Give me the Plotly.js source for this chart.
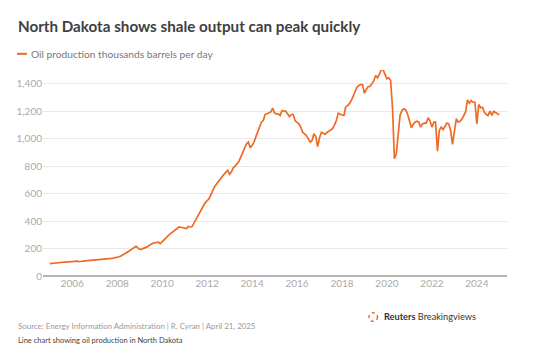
<!DOCTYPE html>
<html>
<head>
<meta charset="utf-8">
<script src="https://cdn.plot.ly/plotly-3.0.1.min.js"></script>
<style>
  html, body { margin: 0; padding: 0; background: #fff; }
  #chart { width: 550px; height: 352px; }
</style>
</head>
<body>
<div id="chart"></div>
<script>
// Monthly North Dakota oil production, thousand barrels per day (Jan 2005 .. Jan 2025)
const startYear = 2005;
const production = [
  // 2005
  90, 92, 95, 96, 98, 100, 101, 100, 101, 102, 103, 104,
  // 2006
  105, 106, 108, 108, 104, 108, 109, 110, 111, 112, 113, 114,
  // 2007
  115, 116, 118, 119, 120, 122, 123, 125, 127, 128, 130, 132,
  // 2008
  135, 140, 145, 152, 160, 168, 178, 188, 198, 210, 216, 205,
  // 2009
  194, 196, 200, 206, 212, 222, 233, 238, 242, 245, 247, 236,
  // 2010
  248, 265, 275, 290, 303, 315, 325, 335, 349, 357, 355, 350,
  // 2011
  347, 345, 361, 357, 360, 385, 417, 440, 466, 490, 510, 535,
  // 2012
  548, 563, 590, 623, 650, 670, 684, 705, 725, 745, 756, 769,
  // 2013
  740, 760, 788, 800, 817, 835, 865, 902, 935, 963, 975, 934,
  // 2014
  951, 975, 1011, 1047, 1096, 1120, 1132, 1176, 1181, 1186, 1195, 1222,
  // 2015
  1186, 1181, 1181, 1169, 1205, 1200, 1200, 1180, 1161, 1176, 1176, 1130,
  // 2016
  1120, 1108, 1085, 1047, 1035, 1023, 1000, 975, 987, 1036, 1016, 943,
  // 2017
  1007, 1047, 1040, 1031, 1045, 1055, 1065, 1072, 1100, 1132, 1186, 1176,
  // 2018
  1172, 1169, 1229, 1241, 1255, 1278, 1314, 1350, 1375, 1387, 1394, 1394,
  // 2019
  1331, 1360, 1380, 1380, 1399, 1420, 1460, 1443, 1470, 1501, 1501, 1470,
  // 2020
  1436, 1443, 1423, 1220, 854, 890, 1050, 1170, 1205, 1217, 1210, 1180,
  // 2021
  1130, 1079, 1103, 1120, 1127, 1120, 1084, 1108, 1113, 1113, 1152, 1130,
  // 2022
  1084, 1120, 1120, 909, 1060, 1084, 1065, 1090, 1113, 1108, 1060, 958,
  // 2023
  1060, 1145, 1120, 1127, 1140, 1169, 1193, 1283, 1258, 1278, 1265, 1265,
  // 2024
  1108, 1249, 1225, 1229, 1193, 1176, 1169, 1200, 1169, 1200, 1188, 1181,
  // 2025
  1174
];
const xTickVals = ['2006','2008','2010','2012','2014','2016','2018','2020','2022','2024'];
const yTickVals = [0, 200, 400, 600, 800, 1000, 1200, 1400];

const seriesName = 'Oil production thousands barrels per day';
const titleText = 'North Dakota shows shale output can peak quickly';
const sourceText = 'Source: Energy Information Administration | R. Cyran | April 21, 2025';
const captionText = 'Line chart showing oil production in North Dakota';

const dates = production.map((v, i) => {
  const y = startYear + Math.floor(i / 12);
  const m = (i % 12) + 1;
  return y + '-' + String(m).padStart(2, '0') + '-01';
});

const ORANGE = '#f06a26';
const FONT = 'Lato, "Open Sans", sans-serif';

// layout pixel helpers (plot area: x 43..507, y 69.5..275.7)
const L = 43, R = 507, T = 69.5, B = 275.7;
const px = x => (x - L) / (R - L);
const py = y => (B - y) / (B - T);

const trace = {
  x: dates,
  y: production,
  type: 'scatter',
  mode: 'lines',
  name: seriesName,
  line: { color: ORANGE, width: 1.7 },
  cliponaxis: false,
  hoverinfo: 'x+y'
};

const layout = {
  width: 550,
  height: 352,
  margin: { l: L, r: 550 - R, t: T, b: 352 - B },
  paper_bgcolor: '#ffffff',
  plot_bgcolor: '#ffffff',
  showlegend: false,
  font: { family: FONT, color: '#aaaaaa', size: 10 },
  xaxis: {
    type: 'date',
    range: ['2004-09-12', '2025-05-05'],
    tickvals: xTickVals,
    ticktext: xTickVals,
    showgrid: false,
    zeroline: false,
    showline: false,
    ticks: '',
    tickfont: { family: FONT, size: 10, color: '#aaaaaa' },
    fixedrange: true
  },
  yaxis: {
    range: [0, 1500],
    tickvals: yTickVals,
    tickformat: ',',
    showgrid: true,
    gridcolor: '#e8e8e8',
    gridwidth: 1,
    zeroline: true,
    zerolinecolor: '#b5b5b5',
    zerolinewidth: 2,
    ticks: '',
    tickfont: { family: FONT, size: 10, color: '#aaaaaa' },
    fixedrange: true
  },
  shapes: [
    { type: 'line', xref: 'paper', yref: 'paper', x0: px(17), x1: px(27), y0: py(53.3), y1: py(53.3),
      line: { color: ORANGE, width: 2 } },
    { type: 'circle', xref: 'paper', yref: 'paper', x0: px(369), x1: px(377.5), y0: py(312.5), y1: py(321),
      line: { color: ORANGE, width: 1.5, dash: 'dot' } }
  ],
  annotations: [
    { text: '<b>' + titleText + '</b>', xref: 'paper', yref: 'paper', x: px(16), y: py(25.5),
      xanchor: 'left', yanchor: 'middle', showarrow: false,
      font: { family: FONT, size: 15.2, color: '#404040' } },
    { text: seriesName, xref: 'paper', yref: 'paper', x: px(29), y: py(53.3),
      xanchor: 'left', yanchor: 'middle', showarrow: false,
      font: { family: FONT, size: 10.2, color: '#777777' } },
    { text: sourceText, xref: 'paper', yref: 'paper', x: px(16), y: py(326),
      xanchor: 'left', yanchor: 'middle', showarrow: false,
      font: { family: FONT, size: 7.9, color: '#9a9a9a' } },
    { text: captionText, xref: 'paper', yref: 'paper', x: px(16), y: py(340.7),
      xanchor: 'left', yanchor: 'middle', showarrow: false,
      font: { family: FONT, size: 7.5, color: '#444444' } },
    { text: '<b>Reuters</b> Breakingviews', xref: 'paper', yref: 'paper', x: px(382), y: py(316.7),
      xanchor: 'left', yanchor: 'middle', showarrow: false,
      font: { family: FONT, size: 9.2, color: '#333333' } }
  ]
};

Plotly.newPlot('chart', [trace], layout, { staticPlot: true, displayModeBar: false });
</script>
</body>
</html>
